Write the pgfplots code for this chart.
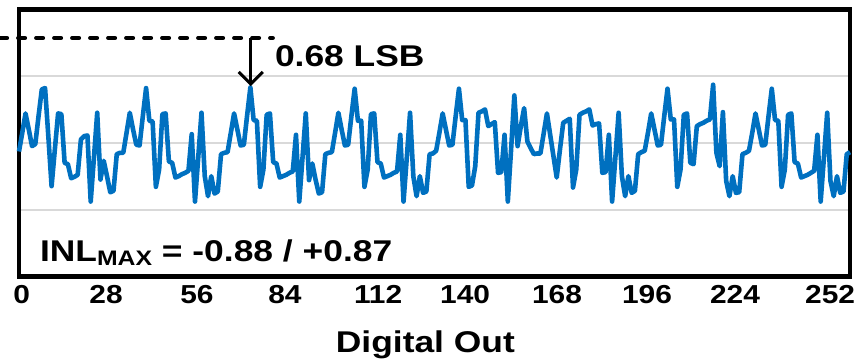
\documentclass[border=0pt]{standalone}
\usepackage{fontspec}
\setmainfont{Liberation Sans}
\newfontfamily\widetext[FakeStretch=1.18]{Liberation Sans}
\newfontfamily\widetick[FakeStretch=1.15]{Liberation Sans}
\usepackage{pgfplots}
\pgfplotsset{compat=1.18}
\usetikzlibrary{arrows.meta}
\definecolor{lineblue}{RGB}{0,112,192}
\begin{document}
\begin{tikzpicture}
\begin{axis}[
  scale only axis, width=831bp, height=267bp,
  xmin=0, xmax=255, ymin=-2, ymax=2,
  xtick={0.8,26.7,54.6,81.6,110.2,136.9,165.1,192.7,219.7,248.9},
  xticklabels={0,28,56,84,112,140,168,196,224,252},
  ytick={-1,0,1}, yticklabels={},
  ymajorgrids, grid style={line width=2bp, color=black!15},
  major tick length=0pt,
  axis line style={line width=4.5bp, line join=miter},
  tick label style={font=\widetick\fontsize{26bp}{30bp}\selectfont\bfseries},
  /pgf/number format/assume math mode=true,
  xticklabel style={yshift=-6bp},
  xlabel={Digital Out},
  xlabel style={font=\widetext\fontsize{30bp}{36bp}\selectfont\bfseries, at={(axis description cs:0.489,0)}, anchor=base, yshift=-76bp},
  clip=false,
]
\coordinate (BL) at (rel axis cs:0,0);
\coordinate (TR) at (rel axis cs:1,1);
\addplot[lineblue, line width=4.6bp, line join=round, mark=none] coordinates {
(0,-0.13)(1,0.15)(2,0.44)(3,0.20)(4,-0.05)(5,-0.02)(6,0.40)(7,0.80)(8,0.82)(9,0.10)(10,-0.65)(11,-0.10)(12,0.44)(13,0.43)(14,-0.30)(15,-0.32)(16,-0.53)(17,-0.51)(18,-0.48)(19,0.05)(20,0.10)(21,0.11)(22,-0.88)(23,-0.22)(24,0.45)(25,-0.55)(26,-0.27)(27,-0.50)(28,-0.74)(29,-0.72)(30,-0.17)(31,-0.15)
(32,-0.15)(33,0.15)(34,0.45)(35,0.20)(36,-0.03)(37,-0.04)(38,0.40)(39,0.82)(40,0.33)(41,0.32)(42,-0.66)(43,-0.40)(44,0.43)(45,0.44)(46,-0.28)(47,-0.30)(48,-0.52)(49,-0.50)(50,-0.47)(51,-0.45)(52,-0.42)(53,0.13)(54,-0.88)(55,-0.22)(56,0.45)(57,-0.50)(58,-0.80)(59,-0.50)(60,-0.76)(61,-0.73)(62,-0.17)(63,-0.15)
(64,-0.14)(65,0.15)(66,0.44)(67,0.20)(68,-0.04)(69,-0.03)(70,0.41)(71,0.83)(72,0.34)(73,0.33)(74,-0.66)(75,-0.40)(76,0.42)(77,0.44)(78,-0.29)(79,-0.31)(80,-0.52)(81,-0.50)(82,-0.48)(83,-0.45)(84,-0.43)(85,0.12)(86,-0.88)(87,-0.22)(88,0.44)(89,-0.56)(90,-0.31)(91,-0.55)(92,-0.76)(93,-0.74)(94,-0.17)(95,-0.15)
(96,-0.14)(97,0.15)(98,0.45)(99,0.20)(100,-0.04)(101,-0.03)(102,0.40)(103,0.81)(104,0.33)(105,0.33)(106,-0.66)(107,-0.40)(108,0.43)(109,0.44)(110,-0.29)(111,-0.31)(112,-0.52)(113,-0.50)(114,-0.48)(115,-0.45)(116,-0.43)(117,0.12)(118,-0.88)(119,-0.22)(120,0.45)(121,-0.50)(122,-0.80)(123,-0.50)(124,-0.75)(125,-0.73)(126,-0.17)(127,-0.16)
(128,-0.12)(129,0.15)(130,0.44)(131,0.20)(132,-0.04)(133,-0.03)(134,0.40)(135,0.81)(136,0.34)(137,0.34)(138,-0.66)(139,-0.64)(140,-0.35)(141,0.45)(142,0.47)(143,0.50)(144,0.25)(145,0.28)(146,0.31)(147,-0.45)(148,-0.44)(149,0.12)(150,-0.88)(151,-0.10)(152,0.71)(153,-0.05)(154,0.25)(155,0.52)(156,0.02)(157,-0.08)(158,-0.17)(159,-0.16)
(160,-0.16)(161,0.14)(162,0.44)(163,0.12)(164,-0.20)(165,-0.52)(166,-0.10)(167,0.30)(168,0.33)(169,0.36)(170,-0.67)(171,-0.40)(172,0.42)(173,0.45)(174,0.47)(175,0.50)(176,0.26)(177,0.28)(178,0.29)(179,-0.45)(180,-0.44)(181,0.12)(182,-0.88)(183,-0.22)(184,0.45)(185,-0.50)(186,-0.80)(187,-0.50)(188,-0.75)(189,-0.72)(190,-0.17)(191,-0.14)
(192,-0.12)(193,0.15)(194,0.44)(195,0.20)(196,-0.04)(197,-0.03)(198,0.40)(199,0.81)(200,0.35)(201,0.35)(202,-0.66)(203,-0.40)(204,0.42)(205,0.44)(206,-0.30)(207,-0.32)(208,0.25)(209,0.28)(210,0.30)(211,0.33)(212,0.35)(213,0.87)(214,-0.15)(215,-0.35)(216,0.46)(217,-0.57)(218,-0.80)(219,-0.50)(220,-0.75)(221,-0.74)(222,-0.17)(223,-0.15)
(224,-0.12)(225,0.15)(226,0.44)(227,0.20)(228,-0.04)(229,-0.03)(230,0.40)(231,0.81)(232,0.34)(233,0.33)(234,-0.66)(235,-0.40)(236,0.42)(237,0.44)(238,-0.29)(239,-0.31)(240,-0.52)(241,-0.50)(242,-0.48)(243,-0.45)(244,-0.42)(245,0.12)(246,-0.88)(247,-0.22)(248,0.45)(249,-0.57)(250,-0.80)(251,-0.50)(252,-0.75)(253,-0.73)(254,-0.17)(255,-0.14)
};
\addplot[black, line width=4bp, dash pattern=on 7bp off 11bp, line cap=round, mark=none] coordinates {(-5.8,1.57) (77.9,1.57)};
\draw[line width=3bp, -{Straight Barb[length=12bp,width=24bp]}] (axis cs:71.1,1.57) -- (axis cs:71.1,0.85);
\node[anchor=base west, font=\widetext\fontsize{30bp}{36bp}\selectfont\bfseries, inner sep=0pt] at (axis cs:78.5,1.14) {0.68 LSB};
\node[anchor=base west, font=\widetext\fontsize{30bp}{36bp}\selectfont\bfseries, inner sep=0pt] at (axis cs:6.4,-1.78) {INL\raisebox{-4bp}{\fontsize{21bp}{21bp}\selectfont MAX} = -0.88 / +0.87};
\end{axis}
\pgfresetboundingbox
\path[use as bounding box] ([shift={(-19bp,-84.7bp)}]BL) rectangle ([shift={(8bp,9.3bp)}]TR);
\end{tikzpicture}
\end{document}
